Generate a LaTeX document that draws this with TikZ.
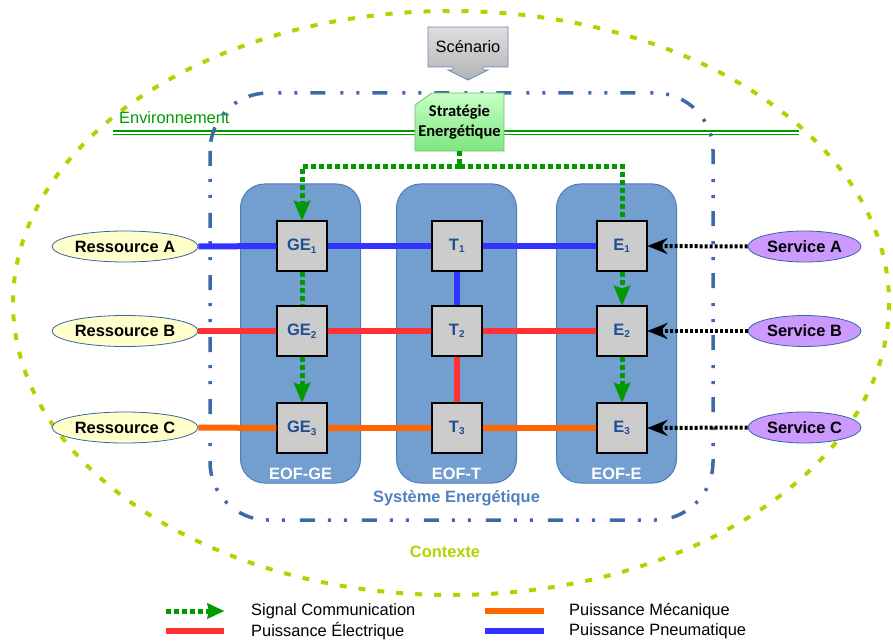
\documentclass[tikz,border=0pt]{standalone}
\usepackage{fontspec}
\setmainfont{Liberation Sans}
\newfontfamily\stratfont{Carlito}
\usetikzlibrary{arrows.meta,shapes.geometric}
\definecolor{ctx}{HTML}{B6D100}
\definecolor{sysblue}{HTML}{3D6AA6}
\definecolor{systxt}{HTML}{5080C0}
\definecolor{colfill}{HTML}{729FCF}
\definecolor{colline}{HTML}{4F7DB8}
\definecolor{boxfill}{HTML}{CCCCCC}
\definecolor{boxtxt}{HTML}{1F4F8F}
\definecolor{pneu}{HTML}{3333FF}
\definecolor{elec}{HTML}{FF3333}
\definecolor{meca}{HTML}{FF6600}
\definecolor{sig}{HTML}{009900}
\definecolor{envgreen}{HTML}{009900}
\definecolor{resfill}{HTML}{FFFFCC}
\definecolor{servfill}{HTML}{CC99FF}
\definecolor{ellline}{HTML}{3465A4}
\tikzset{
  column/.style={draw=colline, line width=1pt, fill=colfill, rounded corners=24pt, minimum width=120pt, minimum height=299pt},
  coltxt/.style={font=\fontsize{16.4}{19}\selectfont\bfseries, text=white},
  unit/.style={draw=black, line width=1.2pt, fill=boxfill, minimum width=50pt, minimum height=50pt, inner sep=0pt, text=boxtxt, font=\fontsize{16.5}{19}\selectfont\bfseries},
  res/.style={ellipse, draw=ellline, line width=0.8pt, fill=resfill, minimum width=146pt, minimum height=31pt, inner sep=0pt, font=\fontsize{16.4}{19}\selectfont\bfseries},
  serv/.style={ellipse, draw=ellline, line width=0.8pt, fill=servfill, minimum width=113pt, minimum height=31pt, inner sep=0pt, font=\fontsize{16.4}{19}\selectfont\bfseries},
  pw/.style={line width=6pt},
  sigline/.style={draw=sig, line width=5pt, dash pattern=on 5pt off 3pt},
  sighead/.style={-{Stealth[length=20pt,width=17pt,inset=3pt,line width=0.1pt]}},
  svcline/.style={draw=black, line width=4pt, dash pattern=on 3pt off 2pt, -{Stealth[length=20pt,width=16pt,inset=7pt,line width=0.1pt]}},
  legtxt/.style={anchor=west, font=\fontsize{16.4}{19}\selectfont, inner sep=0pt}
}
\newcommand{\sub}[1]{\textsubscript{\fontsize{10}{10}\selectfont #1}}
\begin{document}
\begin{tikzpicture}[x=1pt,y=-1pt]
\useasboundingbox (0,0) rectangle (893,644);
% outer context ellipse
\draw[ctx, line width=4pt, dash pattern=on 7pt off 12pt] (451,303) ellipse [x radius=438, y radius=292];
% environment line
\draw[envgreen, line width=1.5pt] (113,131) -- (799,131);
\draw[envgreen, line width=1.5pt] (113,134.5) -- (799,134.5);
\node[anchor=west, inner sep=0pt, text=envgreen, font=\fontsize{16.4}{19}\selectfont] (env) at (119,118) {Environnement};
% system boundary
\draw[sysblue, line width=3.5pt, rounded corners=58pt, dash pattern=on 15pt off 13pt on 3pt off 13pt on 3pt off 15pt] (210,93) rectangle (713,520);
% scenario
\path[draw=sysblue!80, line width=0.8pt, top color=gray!25, bottom color=gray!60]
  (428,27) -- (508,27) -- (508,67) -- (483,67) -- (483,70) -- (488,70) -- (468,80) -- (448,70) -- (453,70) -- (453,67) -- (428,67) -- cycle;
\node[font=\fontsize{16.4}{19}\selectfont, inner sep=0pt] (scen) at (468,47) {Scénario};
% strategy
\path[draw=green!60!black!60, line width=0.8pt, top color=green!22!white, bottom color=green!45!white!90!black]
  (432,93) -- (504,93) -- (504,151) -- (415,151) -- (415,105) -- cycle;
\node[align=center, font=\stratfont\fontsize{16.5}{20}\selectfont\bfseries, inner sep=0pt] (strat) at (459.5,122) {Stratégie\\Energétique};
\coordinate (stratb) at (459.5,151);
% columns
\node[column] (cge) at (300.5,333.5) {};
\node[column] (ct) at (456.5,333.5) {};
\node[column] (ce) at (616.5,333.5) {};
\node[coltxt] (lge) at (300.5,474) {EOF-GE};
\node[coltxt] (lt) at (456.5,474) {EOF-T};
\node[coltxt] (le) at (616.5,474) {EOF-E};
\node[text=systxt, font=\fontsize{16.4}{19}\selectfont\bfseries] (sys) at (456.5,498) {Système Energétique};
\node[text=ctx, font=\fontsize{16.4}{19}\selectfont\bfseries] (ctxt) at (445,552) {Contexte};
% units
\node[unit] (ge1) at (302,246) {GE\sub{1}};
\node[unit] (ge2) at (302,331) {GE\sub{2}};
\node[unit] (ge3) at (302,428) {GE\sub{3}};
\node[unit] (t1) at (457,246) {T\sub{1}};
\node[unit] (t2) at (457,331) {T\sub{2}};
\node[unit] (t3) at (457,428) {T\sub{3}};
\node[unit] (e1) at (622,246) {E\sub{1}};
\node[unit] (e2) at (622,331) {E\sub{2}};
\node[unit] (e3) at (622,428) {E\sub{3}};
% resources & services
\node[res] (ra) at (125,246.5) {Ressource A};
\node[res] (rb) at (125,331) {Ressource B};
\node[res] (rc) at (125,427.5) {Ressource C};
\node[serv] (sa) at (804.5,246.5) {Service A};
\node[serv] (sb) at (804.5,331) {Service B};
\node[serv] (sc) at (804.5,427.5) {Service C};
% power lines
\draw[pw, pneu] (ra.east) -- (ge1.west);
\draw[pw, pneu] (ge1.east) -- (t1.west);
\draw[pw, pneu] (t1.east) -- (e1.west);
\draw[pw, pneu] (t1.south) -- (t2.north);
\draw[pw, elec] (rb.east) -- (ge2.west);
\draw[pw, elec] (ge2.east) -- (t2.west);
\draw[pw, elec] (t2.east) -- (e2.west);
\draw[pw, elec] (t2.south) -- (t3.north);
\draw[pw, meca] (rc.east) -- (ge3.west);
\draw[pw, meca] (ge3.east) -- (t3.west);
\draw[pw, meca] (t3.east) -- (e3.west);
% signal lines
\coordinate (j) at (459.5,167);
\draw[sigline] (stratb) -- (j);
\draw[sigline, sighead] (j) -| (ge1.north);
\draw[sigline] (j) -| (e1.north);
\draw[sigline] (ge1.south) -- (ge2.north);
\draw[sigline, sighead] (ge2.south) -- (ge3.north);
\draw[sigline, sighead] (e1.south) -- (e2.north);
\draw[sigline, sighead] (e2.south) -- (e3.north);
% service lines
\draw[svcline] (sa.west) -- (e1.east);
\draw[svcline] (sb.west) -- (e2.east);
\draw[svcline] (sc.west) -- (e3.east);
% legend
\coordinate (l1a) at (166,611); \coordinate (l1b) at (224,611);
\coordinate (l2a) at (166,631); \coordinate (l2b) at (224,631);
\coordinate (l3a) at (485,611); \coordinate (l3b) at (544,611);
\coordinate (l4a) at (485,631); \coordinate (l4b) at (544,631);
\draw[sigline, -{Stealth[length=17pt,width=16pt,inset=2pt,line width=0.1pt]}] (l1a) -- (l1b);
\draw[pw, elec] (l2a) -- (l2b);
\draw[pw, meca] (l3a) -- (l3b);
\draw[pw, pneu] (l4a) -- (l4b);
\node[legtxt] (lt1) at (251,611) {Signal Communication};
\node[legtxt] (lt2) at (251,631) {Puissance Électrique};
\node[legtxt] (lt3) at (569,611) {Puissance Mécanique};
\node[legtxt] (lt4) at (569,631) {Puissance Pneumatique};
\end{tikzpicture}
\end{document}
